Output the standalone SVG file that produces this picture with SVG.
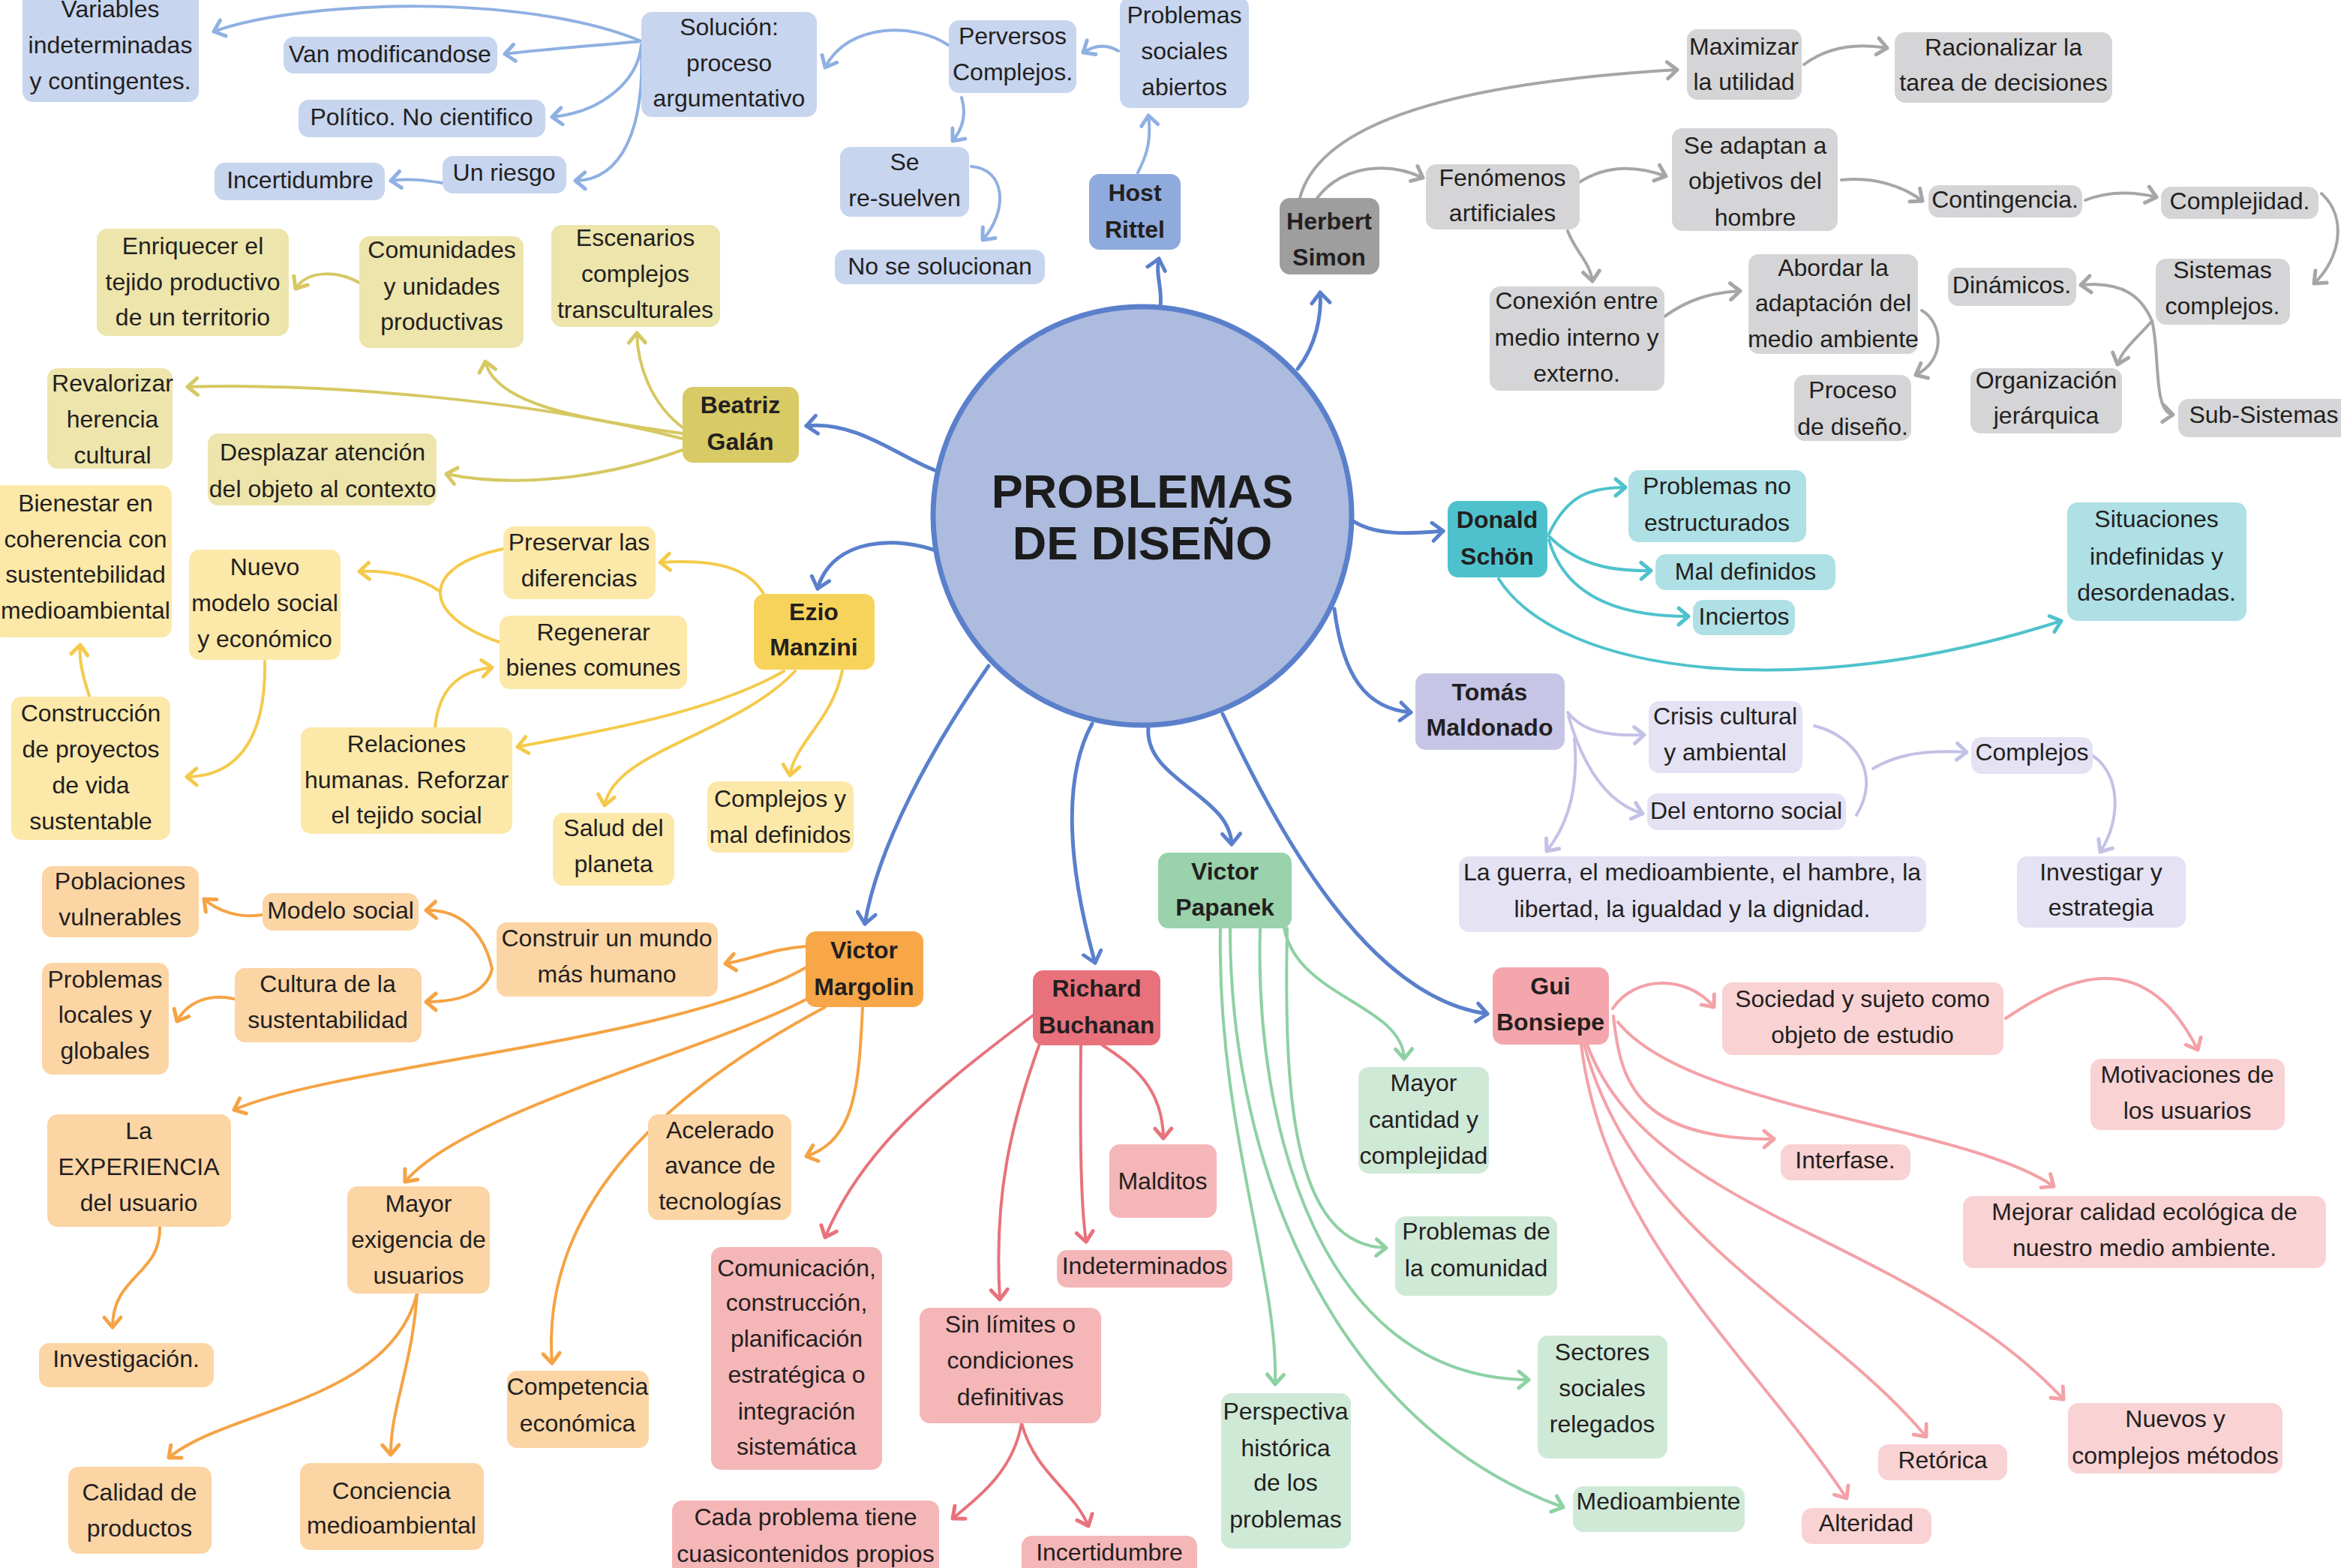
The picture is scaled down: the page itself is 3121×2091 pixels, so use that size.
<svg xmlns="http://www.w3.org/2000/svg" width="3121" height="2091" viewBox="0 0 3121 2091">
<style>
  .t{font-family:"Liberation Sans",Arial,Helvetica,sans-serif;font-size:32px;fill:#231f20;text-anchor:middle;dominant-baseline:central}
  .h{font-weight:bold}
  .ct{font-family:"Liberation Sans",Arial,Helvetica,sans-serif;font-size:63px;font-weight:bold;fill:#1c1c1c;text-anchor:middle;dominant-baseline:central}
  rect{rx:14px;ry:14px}
  .c{fill:none;stroke-width:4;stroke-linecap:round}
  .blue{stroke:#5a80cc;stroke-width:5}
  .rit{stroke:#8fb0e2}.sim{stroke:#a6a6a8}.sch{stroke:#4fc2cc}.mal{stroke:#c3c1e6}
  .gui{stroke:#f4a1a7}.pap{stroke:#8ed1a3}.buc{stroke:#e8727b}.mar{stroke:#f5a344}
  .ezi{stroke:#f5ca4c}.bea{stroke:#d6c863}
  .fRit{fill:#c7d5ef}.fRitH{fill:#8faadd}
  .fSim{fill:#d5d5d7}.fSimH{fill:#9e9e9f}
  .fSch{fill:#aee0e5}.fSchH{fill:#4ec2cc}
  .fMal{fill:#e4e2f3}.fMalH{fill:#c7c5e6}
  .fGui{fill:#f9d2d4}.fGuiH{fill:#f5a6ac}
  .fPap{fill:#cfe9d7}.fPapH{fill:#99d2ab}
  .fBuc{fill:#f5b6b8}.fBucH{fill:#e9717b}
  .fMar{fill:#fcd5a5}.fMarH{fill:#f7a648}
  .fEzi{fill:#fce8a9}.fEziH{fill:#f8d35b}
  .fBea{fill:#ede5ac}.fBeaH{fill:#d8ca64}
</style>
<defs>
  <marker id="mBlue" markerUnits="userSpaceOnUse" markerWidth="40" markerHeight="40" viewBox="-20 -20 40 40" refX="0" refY="0" orient="auto" overflow="visible"><path d="M-14,-12 L0,0 L-14,12" fill="none" stroke="#5a80cc" stroke-width="5" stroke-linecap="round" stroke-linejoin="round"/></marker>
  <marker id="mRit" markerUnits="userSpaceOnUse" markerWidth="40" markerHeight="40" viewBox="-20 -20 40 40" refX="0" refY="0" orient="auto" overflow="visible"><path d="M-13,-11 L0,0 L-13,11" fill="none" stroke="#8fb0e2" stroke-width="5" stroke-linecap="round" stroke-linejoin="round"/></marker>
  <marker id="mSim" markerUnits="userSpaceOnUse" markerWidth="40" markerHeight="40" viewBox="-20 -20 40 40" refX="0" refY="0" orient="auto" overflow="visible"><path d="M-13,-11 L0,0 L-13,11" fill="none" stroke="#a6a6a8" stroke-width="5" stroke-linecap="round" stroke-linejoin="round"/></marker>
  <marker id="mSch" markerUnits="userSpaceOnUse" markerWidth="40" markerHeight="40" viewBox="-20 -20 40 40" refX="0" refY="0" orient="auto" overflow="visible"><path d="M-13,-11 L0,0 L-13,11" fill="none" stroke="#4fc2cc" stroke-width="5" stroke-linecap="round" stroke-linejoin="round"/></marker>
  <marker id="mMal" markerUnits="userSpaceOnUse" markerWidth="40" markerHeight="40" viewBox="-20 -20 40 40" refX="0" refY="0" orient="auto" overflow="visible"><path d="M-13,-11 L0,0 L-13,11" fill="none" stroke="#c3c1e6" stroke-width="5" stroke-linecap="round" stroke-linejoin="round"/></marker>
  <marker id="mGui" markerUnits="userSpaceOnUse" markerWidth="40" markerHeight="40" viewBox="-20 -20 40 40" refX="0" refY="0" orient="auto" overflow="visible"><path d="M-13,-11 L0,0 L-13,11" fill="none" stroke="#f4a1a7" stroke-width="5" stroke-linecap="round" stroke-linejoin="round"/></marker>
  <marker id="mPap" markerUnits="userSpaceOnUse" markerWidth="40" markerHeight="40" viewBox="-20 -20 40 40" refX="0" refY="0" orient="auto" overflow="visible"><path d="M-13,-11 L0,0 L-13,11" fill="none" stroke="#8ed1a3" stroke-width="5" stroke-linecap="round" stroke-linejoin="round"/></marker>
  <marker id="mBuc" markerUnits="userSpaceOnUse" markerWidth="40" markerHeight="40" viewBox="-20 -20 40 40" refX="0" refY="0" orient="auto" overflow="visible"><path d="M-13,-11 L0,0 L-13,11" fill="none" stroke="#e8727b" stroke-width="5" stroke-linecap="round" stroke-linejoin="round"/></marker>
  <marker id="mMar" markerUnits="userSpaceOnUse" markerWidth="40" markerHeight="40" viewBox="-20 -20 40 40" refX="0" refY="0" orient="auto" overflow="visible"><path d="M-13,-11 L0,0 L-13,11" fill="none" stroke="#f5a344" stroke-width="5" stroke-linecap="round" stroke-linejoin="round"/></marker>
  <marker id="mEzi" markerUnits="userSpaceOnUse" markerWidth="40" markerHeight="40" viewBox="-20 -20 40 40" refX="0" refY="0" orient="auto" overflow="visible"><path d="M-13,-11 L0,0 L-13,11" fill="none" stroke="#f5ca4c" stroke-width="5" stroke-linecap="round" stroke-linejoin="round"/></marker>
  <marker id="mBea" markerUnits="userSpaceOnUse" markerWidth="40" markerHeight="40" viewBox="-20 -20 40 40" refX="0" refY="0" orient="auto" overflow="visible"><path d="M-13,-11 L0,0 L-13,11" fill="none" stroke="#d6c863" stroke-width="5" stroke-linecap="round" stroke-linejoin="round"/></marker>
</defs>

<rect x="0" y="0" width="3121" height="2091" rx="0" ry="0" fill="#ffffff"/>

<!-- connectors -->
<g id="connectors">
  <!-- from the central topic -->
  <path class="c blue" marker-end="url(#mBlue)" d="M1547,408 C1550,385 1540,365 1545,345"/>
  <path class="c blue" marker-end="url(#mBlue)" d="M1730,492 C1755,460 1762,420 1760,390"/>
  <path class="c blue" marker-end="url(#mBlue)" d="M1246,627 C1200,610 1140,560 1075,568"/>
  <path class="c blue" marker-end="url(#mBlue)" d="M1252,736 C1200,715 1110,715 1090,785"/>
  <path class="c blue" marker-end="url(#mBlue)" d="M1318,888 C1240,1000 1170,1130 1153,1232"/>
  <path class="c blue" marker-end="url(#mBlue)" d="M1456,965 C1415,1040 1425,1160 1460,1284"/>
  <path class="c blue" marker-end="url(#mBlue)" d="M1531,970 C1525,1040 1640,1060 1642,1126"/>
  <path class="c blue" marker-end="url(#mBlue)" d="M1630,952 C1700,1100 1820,1330 1983,1352"/>
  <path class="c blue" marker-end="url(#mBlue)" d="M1800,692 C1830,715 1880,712 1924,708"/>
  <path class="c blue" marker-end="url(#mBlue)" d="M1779,812 C1790,900 1820,945 1881,950"/>

  <!-- Host Rittel -->
  <path class="c rit" marker-end="url(#mRit)" d="M1517,230 C1530,205 1535,185 1531,154"/>
  <path class="c rit" marker-end="url(#mRit)" d="M1491,68 C1475,58 1460,60 1444,70"/>
  <path class="c rit" marker-end="url(#mRit)" d="M1264,60 C1220,30 1130,30 1100,90"/>
  <path class="c rit" marker-end="url(#mRit)" d="M1282,130 C1288,150 1285,170 1270,188"/>
  <path class="c rit" marker-end="url(#mRit)" d="M1295,222 C1340,225 1345,280 1310,320"/>
  <path class="c rit" marker-end="url(#mRit)" d="M855,55 C700,-10 400,0 285,42"/>
  <path class="c rit" marker-end="url(#mRit)" d="M855,55 C780,62 720,66 673,72"/>
  <path class="c rit" marker-end="url(#mRit)" d="M855,60 C850,110 800,150 736,156"/>
  <path class="c rit" marker-end="url(#mRit)" d="M855,60 C860,170 830,240 767,241"/>
  <path class="c rit" marker-end="url(#mRit)" d="M590,244 C565,240 545,238 521,241"/>

  <!-- Herbert Simon -->
  <path class="c sim" marker-end="url(#mSim)" d="M1733,264 C1760,160 1950,110 2236,93"/>
  <path class="c sim" marker-end="url(#mSim)" d="M1756,264 C1790,220 1850,215 1897,237"/>
  <path class="c sim" marker-end="url(#mSim)" d="M2405,86 C2440,60 2480,58 2516,64"/>
  <path class="c sim" marker-end="url(#mSim)" d="M2104,244 C2140,220 2180,220 2221,235"/>
  <path class="c sim" marker-end="url(#mSim)" d="M2455,240 C2500,235 2540,250 2563,268"/>
  <path class="c sim" marker-end="url(#mSim)" d="M2780,267 C2810,255 2845,255 2875,263"/>
  <path class="c sim" marker-end="url(#mSim)" d="M3095,258 C3130,290 3120,345 3085,378"/>
  <path class="c sim" marker-end="url(#mSim)" d="M2869,428 C2855,395 2830,375 2774,380"/>
  <path class="c sim" marker-end="url(#mSim)" d="M2869,428 C2850,450 2830,465 2823,486"/>
  <path class="c sim" marker-end="url(#mSim)" d="M2869,428 C2880,470 2870,550 2897,553"/>
  <path class="c sim" marker-end="url(#mSim)" d="M2090,308 C2100,335 2120,350 2123,375"/>
  <path class="c sim" marker-end="url(#mSim)" d="M2219,422 C2250,400 2280,390 2320,388"/>
  <path class="c sim" marker-end="url(#mSim)" d="M2562,414 C2590,430 2595,480 2554,500"/>

  <!-- Donald Schön -->
  <path class="c sch" marker-end="url(#mSch)" d="M2065,712 C2090,660 2120,650 2167,650"/>
  <path class="c sch" marker-end="url(#mSch)" d="M2065,715 C2100,750 2140,762 2201,761"/>
  <path class="c sch" marker-end="url(#mSch)" d="M2065,720 C2085,790 2150,822 2251,822"/>
  <path class="c sch" marker-end="url(#mSch)" d="M1998,772 C2080,900 2400,940 2748,828"/>

  <!-- Tomás Maldonado -->
  <path class="c mal" marker-end="url(#mMal)" d="M2090,950 C2110,975 2140,982 2192,980"/>
  <path class="c mal" marker-end="url(#mMal)" d="M2091,955 C2110,1020 2140,1070 2190,1085"/>
  <path class="c mal" marker-end="url(#mMal)" d="M2099,985 C2105,1050 2090,1100 2062,1135"/>
  <path class="c mal" d="M2419,968 C2470,980 2510,1030 2475,1087"/>
  <path class="c mal" marker-end="url(#mMal)" d="M2497,1025 C2530,1005 2570,1000 2622,1003"/>
  <path class="c mal" marker-end="url(#mMal)" d="M2790,1008 C2825,1030 2830,1090 2800,1136"/>

  <!-- Gui Bonsiepe -->
  <path class="c gui" marker-end="url(#mGui)" d="M2150,1345 C2180,1300 2250,1300 2285,1343"/>
  <path class="c gui" marker-end="url(#mGui)" d="M2674,1358 C2760,1300 2860,1260 2930,1400"/>
  <path class="c gui" marker-end="url(#mGui)" d="M2151,1355 C2160,1440 2180,1520 2365,1519"/>
  <path class="c gui" marker-end="url(#mGui)" d="M2157,1363 C2250,1480 2620,1500 2738,1582"/>
  <path class="c gui" marker-end="url(#mGui)" d="M2116,1393 C2200,1620 2550,1650 2751,1866"/>
  <path class="c gui" marker-end="url(#mGui)" d="M2112,1393 C2180,1650 2430,1750 2568,1916"/>
  <path class="c gui" marker-end="url(#mGui)" d="M2108,1393 C2140,1650 2330,1800 2462,1998"/>

  <!-- Victor Papanek -->
  <path class="c pap" marker-end="url(#mPap)" d="M1712,1238 C1730,1330 1870,1340 1872,1412"/>
  <path class="c pap" marker-end="url(#mPap)" d="M1716,1238 C1712,1450 1720,1660 1848,1664"/>
  <path class="c pap" marker-end="url(#mPap)" d="M1680,1238 C1672,1500 1760,1838 2038,1840"/>
  <path class="c pap" marker-end="url(#mPap)" d="M1640,1238 C1640,1560 1780,1900 2084,2010"/>
  <path class="c pap" marker-end="url(#mPap)" d="M1627,1238 C1622,1500 1705,1700 1700,1846"/>

  <!-- Richard Buchanan -->
  <path class="c buc" marker-end="url(#mBuc)" d="M1380,1352 C1250,1450 1150,1530 1100,1650"/>
  <path class="c buc" marker-end="url(#mBuc)" d="M1393,1373 C1345,1500 1325,1600 1333,1733"/>
  <path class="c buc" marker-end="url(#mBuc)" d="M1441,1394 C1440,1500 1440,1600 1448,1656"/>
  <path class="c buc" marker-end="url(#mBuc)" d="M1470,1394 C1510,1420 1550,1450 1551,1518"/>
  <path class="c buc" marker-end="url(#mBuc)" d="M1362,1898 C1350,1965 1300,2000 1270,2025"/>
  <path class="c buc" marker-end="url(#mBuc)" d="M1362,1898 C1380,1965 1430,1985 1451,2035"/>

  <!-- Victor Margolin -->
  <path class="c mar" marker-end="url(#mMar)" d="M1074,1262 C1030,1265 1000,1280 967,1285"/>
  <path class="c mar" marker-end="url(#mMar)" d="M656,1292 C645,1240 610,1212 568,1214"/>
  <path class="c mar" marker-end="url(#mMar)" d="M656,1292 C650,1320 620,1336 568,1336"/>
  <path class="c mar" marker-end="url(#mMar)" d="M349,1220 C320,1225 290,1215 272,1199"/>
  <path class="c mar" marker-end="url(#mMar)" d="M312,1332 C280,1325 250,1335 236,1362"/>
  <path class="c mar" marker-end="url(#mMar)" d="M1075,1290 C900,1390 450,1420 312,1480"/>
  <path class="c mar" marker-end="url(#mMar)" d="M1080,1330 C950,1400 620,1480 540,1576"/>
  <path class="c mar" marker-end="url(#mMar)" d="M1100,1343 C900,1450 720,1600 736,1818"/>
  <path class="c mar" marker-end="url(#mMar)" d="M1150,1343 C1145,1450 1140,1520 1075,1542"/>
  <path class="c mar" marker-end="url(#mMar)" d="M213,1636 C215,1700 150,1700 150,1770"/>
  <path class="c mar" marker-end="url(#mMar)" d="M556,1725 C520,1870 300,1880 225,1944"/>
  <path class="c mar" marker-end="url(#mMar)" d="M556,1725 C550,1820 520,1880 521,1940"/>

  <!-- Ezio Manzini -->
  <path class="c ezi" marker-end="url(#mEzi)" d="M1018,792 C1000,760 960,745 880,750"/>
  <path class="c ezi" d="M671,732 C560,755 560,820 665,856"/>
  <path class="c ezi" marker-end="url(#mEzi)" d="M587,789 C560,770 520,760 479,762"/>
  <path class="c ezi" marker-end="url(#mEzi)" d="M580,970 C585,920 610,895 656,890"/>
  <path class="c ezi" marker-end="url(#mEzi)" d="M1045,895 C950,950 800,975 690,996"/>
  <path class="c ezi" marker-end="url(#mEzi)" d="M1060,895 C980,980 820,1000 806,1074"/>
  <path class="c ezi" marker-end="url(#mEzi)" d="M1123,894 C1110,960 1060,990 1053,1034"/>
  <path class="c ezi" marker-end="url(#mEzi)" d="M353,882 C355,980 320,1035 249,1036"/>
  <path class="c ezi" marker-end="url(#mEzi)" d="M119,928 C110,900 105,880 107,860"/>

  <!-- Beatriz Galán -->
  <path class="c bea" marker-end="url(#mBea)" d="M910,570 C870,540 850,490 849,444"/>
  <path class="c bea" marker-end="url(#mBea)" d="M910,578 C780,560 660,540 647,482"/>
  <path class="c bea" marker-end="url(#mBea)" d="M481,378 C450,360 410,360 394,385"/>
  <path class="c bea" marker-end="url(#mBea)" d="M910,585 C700,530 400,510 250,516"/>
  <path class="c bea" marker-end="url(#mBea)" d="M910,600 C800,640 680,650 595,632"/>
</g>

<!-- central topic -->
<g id="n-centro">
  <circle cx="1523" cy="688" r="279" fill="#adbbdf" stroke="#5b80cb" stroke-width="7"/>
  <text class="ct"><tspan x="1523" y="655">PROBLEMAS</tspan><tspan x="1523" y="724">DE DISEÑO</tspan></text>
</g>

<!-- Host Rittel -->
<g id="n-rittel"><rect class="fRitH" x="1452" y="232" width="122" height="101"/><text class="t h"><tspan x="1513" y="257">Host</tspan><tspan x="1513" y="306">Rittel</tspan></text></g>
<g id="n-problemas-sociales"><rect class="fRit" x="1493" y="-4" width="172" height="148"/><text class="t"><tspan x="1579" y="20">Problemas</tspan><tspan x="1579" y="68">sociales</tspan><tspan x="1579" y="116">abiertos</tspan></text></g>
<g id="n-perversos"><rect class="fRit" x="1265" y="27" width="170" height="97"/><text class="t"><tspan x="1350" y="48">Perversos</tspan><tspan x="1350" y="96">Complejos.</tspan></text></g>
<g id="n-resuelven"><rect class="fRit" x="1120" y="196" width="172" height="93"/><text class="t"><tspan x="1206" y="216">Se</tspan><tspan x="1206" y="264">re-suelven</tspan></text></g>
<g id="n-no-solucionan"><rect class="fRit" x="1113" y="333" width="280" height="46"/><text class="t" x="1253" y="355">No se solucionan</text></g>
<g id="n-solucion"><rect class="fRit" x="855" y="16" width="234" height="140"/><text class="t"><tspan x="972" y="36">Solución:</tspan><tspan x="972" y="84">proceso</tspan><tspan x="972" y="131">argumentativo</tspan></text></g>
<g id="n-variables"><rect class="fRit" x="30" y="-20" width="235" height="156"/><text class="t"><tspan x="147" y="12">Variables</tspan><tspan x="147" y="60">indeterminadas</tspan><tspan x="147" y="108">y contingentes.</tspan></text></g>
<g id="n-van"><rect class="fRit" x="378" y="49" width="285" height="49"/><text class="t" x="520" y="72">Van modificandose</text></g>
<g id="n-politico"><rect class="fRit" x="398" y="133" width="329" height="50"/><text class="t" x="562" y="156">Político. No cientifico</text></g>
<g id="n-riesgo"><rect class="fRit" x="590" y="208" width="165" height="50"/><text class="t" x="672" y="230">Un riesgo</text></g>
<g id="n-incertidumbre-1"><rect class="fRit" x="286" y="217" width="227" height="50"/><text class="t" x="400" y="240">Incertidumbre</text></g>

<!-- Herbert Simon -->
<g id="n-simon"><rect class="fSimH" x="1706" y="264" width="133" height="102"/><text class="t h"><tspan x="1772" y="295">Herbert</tspan><tspan x="1772" y="343">Simon</tspan></text></g>
<g id="n-maximizar"><rect class="fSim" x="2249" y="39" width="153" height="94"/><text class="t"><tspan x="2325" y="62">Maximizar</tspan><tspan x="2325" y="109">la utilidad</tspan></text></g>
<g id="n-racionalizar"><rect class="fSim" x="2526" y="43" width="290" height="94"/><text class="t"><tspan x="2671" y="63">Racionalizar la</tspan><tspan x="2671" y="110">tarea de decisiones</tspan></text></g>
<g id="n-fenomenos"><rect class="fSim" x="1901" y="219" width="205" height="87"/><text class="t"><tspan x="2003" y="237">Fenómenos</tspan><tspan x="2003" y="284">artificiales</tspan></text></g>
<g id="n-adaptan"><rect class="fSim" x="2229" y="171" width="221" height="137"/><text class="t"><tspan x="2340" y="194">Se adaptan a</tspan><tspan x="2340" y="241">objetivos del</tspan><tspan x="2340" y="290">hombre</tspan></text></g>
<g id="n-contingencia"><rect class="fSim" x="2571" y="247" width="205" height="43"/><text class="t" x="2673" y="266">Contingencia.</text></g>
<g id="n-complejidad"><rect class="fSim" x="2881" y="249" width="210" height="43"/><text class="t" x="2986" y="268">Complejidad.</text></g>
<g id="n-conexion"><rect class="fSim" x="1986" y="382" width="233" height="139"/><text class="t"><tspan x="2102" y="401">Conexión entre</tspan><tspan x="2102" y="450">medio interno y</tspan><tspan x="2102" y="498">externo.</tspan></text></g>
<g id="n-abordar"><rect class="fSim" x="2331" y="339" width="226" height="133"/><text class="t"><tspan x="2444" y="357">Abordar la</tspan><tspan x="2444" y="404">adaptación del</tspan><tspan x="2444" y="452">medio ambiente</tspan></text></g>
<g id="n-proceso"><rect class="fSim" x="2392" y="500" width="156" height="88"/><text class="t"><tspan x="2470" y="520">Proceso</tspan><tspan x="2470" y="569">de diseño.</tspan></text></g>
<g id="n-dinamicos"><rect class="fSim" x="2597" y="357" width="171" height="51"/><text class="t" x="2682" y="380">Dinámicos.</text></g>
<g id="n-sistemas"><rect class="fSim" x="2874" y="345" width="179" height="88"/><text class="t"><tspan x="2963" y="360">Sistemas</tspan><tspan x="2963" y="408">complejos.</tspan></text></g>
<g id="n-organizacion"><rect class="fSim" x="2627" y="491" width="202" height="87"/><text class="t"><tspan x="2728" y="507">Organización</tspan><tspan x="2728" y="554">jerárquica</tspan></text></g>
<g id="n-subsistemas"><rect class="fSim" x="2904" y="532" width="240" height="51"/><text class="t" x="3018" y="553">Sub-Sistemas</text></g>

<!-- Donald Schön -->
<g id="n-schon"><rect class="fSchH" x="1930" y="668" width="133" height="102"/><text class="t h"><tspan x="1996" y="693">Donald</tspan><tspan x="1996" y="742">Schön</tspan></text></g>
<g id="n-no-estructurados"><rect class="fSch" x="2171" y="627" width="237" height="96"/><text class="t"><tspan x="2289" y="648">Problemas no</tspan><tspan x="2289" y="697">estructurados</tspan></text></g>
<g id="n-mal-definidos"><rect class="fSch" x="2207" y="739" width="240" height="48"/><text class="t" x="2327" y="762">Mal definidos</text></g>
<g id="n-inciertos"><rect class="fSch" x="2257" y="800" width="136" height="47"/><text class="t" x="2325" y="822">Inciertos</text></g>
<g id="n-situaciones"><rect class="fSch" x="2756" y="670" width="239" height="158"/><text class="t"><tspan x="2875" y="692">Situaciones</tspan><tspan x="2875" y="742">indefinidas y</tspan><tspan x="2875" y="790">desordenadas.</tspan></text></g>

<!-- Tomás Maldonado -->
<g id="n-maldonado"><rect class="fMalH" x="1887" y="898" width="199" height="102"/><text class="t h"><tspan x="1986" y="923">Tomás</tspan><tspan x="1986" y="970">Maldonado</tspan></text></g>
<g id="n-crisis"><rect class="fMal" x="2198" y="935" width="205" height="96"/><text class="t"><tspan x="2300" y="955">Crisis cultural</tspan><tspan x="2300" y="1003">y ambiental</tspan></text></g>
<g id="n-entorno"><rect class="fMal" x="2196" y="1058" width="265" height="49"/><text class="t" x="2328" y="1081">Del entorno social</text></g>
<g id="n-complejos"><rect class="fMal" x="2628" y="983" width="162" height="49"/><text class="t" x="2709" y="1003">Complejos</text></g>
<g id="n-guerra"><rect class="fMal" x="1945" y="1142" width="623" height="101"/><text class="t"><tspan x="2256" y="1163">La guerra, el medioambiente, el hambre, la</tspan><tspan x="2256" y="1212">libertad, la igualdad y la dignidad.</tspan></text></g>
<g id="n-investigar"><rect class="fMal" x="2689" y="1142" width="225" height="95"/><text class="t"><tspan x="2801" y="1163">Investigar y</tspan><tspan x="2801" y="1210">estrategia</tspan></text></g>

<!-- Gui Bonsiepe -->
<g id="n-bonsiepe"><rect class="fGuiH" x="1990" y="1290" width="155" height="103"/><text class="t h"><tspan x="2067" y="1315">Gui</tspan><tspan x="2067" y="1363">Bonsiepe</tspan></text></g>
<g id="n-sociedad"><rect class="fGui" x="2296" y="1310" width="375" height="97"/><text class="t"><tspan x="2483" y="1332">Sociedad y sujeto como</tspan><tspan x="2483" y="1380">objeto de estudio</tspan></text></g>
<g id="n-motivaciones"><rect class="fGui" x="2787" y="1412" width="259" height="95"/><text class="t"><tspan x="2916" y="1433">Motivaciones de</tspan><tspan x="2916" y="1481">los usuarios</tspan></text></g>
<g id="n-interfase"><rect class="fGui" x="2374" y="1526" width="173" height="48"/><text class="t" x="2460" y="1547">Interfase.</text></g>
<g id="n-mejorar"><rect class="fGui" x="2617" y="1595" width="484" height="96"/><text class="t"><tspan x="2859" y="1616">Mejorar calidad ecológica de</tspan><tspan x="2859" y="1664">nuestro medio ambiente.</tspan></text></g>
<g id="n-retorica"><rect class="fGui" x="2504" y="1926" width="172" height="48"/><text class="t" x="2590" y="1947">Retórica</text></g>
<g id="n-nuevos"><rect class="fGui" x="2757" y="1871" width="286" height="94"/><text class="t"><tspan x="2900" y="1892">Nuevos y</tspan><tspan x="2900" y="1941">complejos métodos</tspan></text></g>
<g id="n-alteridad"><rect class="fGui" x="2402" y="2011" width="173" height="48"/><text class="t" x="2488" y="2031">Alteridad</text></g>

<!-- Victor Papanek -->
<g id="n-papanek"><rect class="fPapH" x="1544" y="1137" width="178" height="101"/><text class="t h"><tspan x="1633" y="1162">Victor</tspan><tspan x="1633" y="1210">Papanek</tspan></text></g>
<g id="n-mayor-cantidad"><rect class="fPap" x="1811" y="1423" width="174" height="142"/><text class="t"><tspan x="1898" y="1444">Mayor</tspan><tspan x="1898" y="1493">cantidad y</tspan><tspan x="1898" y="1541">complejidad</tspan></text></g>
<g id="n-comunidad"><rect class="fPap" x="1860" y="1622" width="216" height="106"/><text class="t"><tspan x="1968" y="1642">Problemas de</tspan><tspan x="1968" y="1691">la comunidad</tspan></text></g>
<g id="n-sectores"><rect class="fPap" x="2050" y="1781" width="173" height="164"/><text class="t"><tspan x="2136" y="1803">Sectores</tspan><tspan x="2136" y="1851">sociales</tspan><tspan x="2136" y="1899">relegados</tspan></text></g>
<g id="n-medioambiente"><rect class="fPap" x="2097" y="1982" width="229" height="61"/><text class="t" x="2211" y="2002">Medioambiente</text></g>
<g id="n-perspectiva"><rect class="fPap" x="1628" y="1858" width="173" height="207"/><text class="t"><tspan x="1714" y="1882">Perspectiva</tspan><tspan x="1714" y="1931">histórica</tspan><tspan x="1714" y="1977">de los</tspan><tspan x="1714" y="2026">problemas</tspan></text></g>

<!-- Richard Buchanan -->
<g id="n-buchanan"><rect class="fBucH" x="1377" y="1294" width="170" height="100"/><text class="t h"><tspan x="1462" y="1318">Richard</tspan><tspan x="1462" y="1367">Buchanan</tspan></text></g>
<g id="n-malditos"><rect class="fBuc" x="1479" y="1526" width="143" height="98"/><text class="t" x="1550" y="1575">Malditos</text></g>
<g id="n-indeterminados"><rect class="fBuc" x="1409" y="1667" width="234" height="50"/><text class="t" x="1526" y="1688">Indeterminados</text></g>
<g id="n-sin-limites"><rect class="fBuc" x="1226" y="1744" width="242" height="154"/><text class="t"><tspan x="1347" y="1766">Sin límites o</tspan><tspan x="1347" y="1814">condiciones</tspan><tspan x="1347" y="1863">definitivas</tspan></text></g>
<g id="n-comunicacion"><rect class="fBuc" x="948" y="1663" width="228" height="297"/><text class="t"><tspan x="1062" y="1691">Comunicación,</tspan><tspan x="1062" y="1737">construcción,</tspan><tspan x="1062" y="1785">planificación</tspan><tspan x="1062" y="1833">estratégica o</tspan><tspan x="1062" y="1882">integración</tspan><tspan x="1062" y="1929">sistemática</tspan></text></g>
<g id="n-cada-problema"><rect class="fBuc" x="896" y="2001" width="356" height="110"/><text class="t"><tspan x="1074" y="2023">Cada problema tiene</tspan><tspan x="1074" y="2072">cuasicontenidos propios</tspan></text></g>
<g id="n-incertidumbre-2"><rect class="fBuc" x="1362" y="2048" width="234" height="60"/><text class="t" x="1479" y="2070">Incertidumbre</text></g>

<!-- Victor Margolin -->
<g id="n-margolin"><rect class="fMarH" x="1074" y="1242" width="157" height="101"/><text class="t h"><tspan x="1152" y="1267">Victor</tspan><tspan x="1152" y="1316">Margolin</tspan></text></g>
<g id="n-construir"><rect class="fMar" x="662" y="1230" width="295" height="99"/><text class="t"><tspan x="809" y="1251">Construir un mundo</tspan><tspan x="809" y="1299">más humano</tspan></text></g>
<g id="n-modelo-social"><rect class="fMar" x="350" y="1191" width="208" height="50"/><text class="t" x="454" y="1214">Modelo social</text></g>
<g id="n-cultura"><rect class="fMar" x="313" y="1291" width="249" height="99"/><text class="t"><tspan x="437" y="1312">Cultura de la</tspan><tspan x="437" y="1360">sustentabilidad</tspan></text></g>
<g id="n-poblaciones"><rect class="fMar" x="56" y="1155" width="209" height="95"/><text class="t"><tspan x="160" y="1175">Poblaciones</tspan><tspan x="160" y="1223">vulnerables</tspan></text></g>
<g id="n-locales"><rect class="fMar" x="56" y="1284" width="169" height="149"/><text class="t"><tspan x="140" y="1306">Problemas</tspan><tspan x="140" y="1353">locales y</tspan><tspan x="140" y="1401">globales</tspan></text></g>
<g id="n-experiencia"><rect class="fMar" x="63" y="1486" width="245" height="150"/><text class="t"><tspan x="185" y="1508">La</tspan><tspan x="185" y="1556">EXPERIENCIA</tspan><tspan x="185" y="1604">del usuario</tspan></text></g>
<g id="n-investigacion"><rect class="fMar" x="52" y="1791" width="233" height="59"/><text class="t" x="168" y="1812">Investigación.</text></g>
<g id="n-exigencia"><rect class="fMar" x="463" y="1582" width="190" height="143"/><text class="t"><tspan x="558" y="1605">Mayor</tspan><tspan x="558" y="1653">exigencia de</tspan><tspan x="558" y="1701">usuarios</tspan></text></g>
<g id="n-acelerado"><rect class="fMar" x="864" y="1486" width="191" height="141"/><text class="t"><tspan x="960" y="1507">Acelerado</tspan><tspan x="960" y="1554">avance de</tspan><tspan x="960" y="1602">tecnologías</tspan></text></g>
<g id="n-competencia"><rect class="fMar" x="676" y="1828" width="189" height="103"/><text class="t"><tspan x="770" y="1849">Competencia</tspan><tspan x="770" y="1898">económica</tspan></text></g>
<g id="n-calidad"><rect class="fMar" x="91" y="1956" width="191" height="116"/><text class="t"><tspan x="186" y="1990">Calidad de</tspan><tspan x="186" y="2038">productos</tspan></text></g>
<g id="n-conciencia"><rect class="fMar" x="400" y="1951" width="245" height="116"/><text class="t"><tspan x="522" y="1988">Conciencia</tspan><tspan x="522" y="2034">medioambiental</tspan></text></g>

<!-- Ezio Manzini -->
<g id="n-manzini"><rect class="fEziH" x="1005" y="792" width="161" height="101"/><text class="t h"><tspan x="1085" y="816">Ezio</tspan><tspan x="1085" y="863">Manzini</tspan></text></g>
<g id="n-preservar"><rect class="fEzi" x="671" y="702" width="203" height="97"/><text class="t"><tspan x="772" y="723">Preservar las</tspan><tspan x="772" y="771">diferencias</tspan></text></g>
<g id="n-regenerar"><rect class="fEzi" x="666" y="821" width="250" height="98"/><text class="t"><tspan x="791" y="843">Regenerar</tspan><tspan x="791" y="890">bienes comunes</tspan></text></g>
<g id="n-nuevo-modelo"><rect class="fEzi" x="252" y="733" width="202" height="147"/><text class="t"><tspan x="353" y="756">Nuevo</tspan><tspan x="353" y="804">modelo social</tspan><tspan x="353" y="852">y económico</tspan></text></g>
<g id="n-bienestar"><rect class="fEzi" x="-10" y="647" width="239" height="203"/><text class="t"><tspan x="114" y="671">Bienestar en</tspan><tspan x="114" y="719">coherencia con</tspan><tspan x="114" y="766">sustentebilidad</tspan><tspan x="114" y="814">medioambiental</tspan></text></g>
<g id="n-construccion"><rect class="fEzi" x="15" y="929" width="212" height="191"/><text class="t"><tspan x="121" y="951">Construcción</tspan><tspan x="121" y="999">de proyectos</tspan><tspan x="121" y="1047">de vida</tspan><tspan x="121" y="1095">sustentable</tspan></text></g>
<g id="n-relaciones"><rect class="fEzi" x="401" y="970" width="282" height="142"/><text class="t"><tspan x="542" y="992">Relaciones</tspan><tspan x="542" y="1040">humanas. Reforzar</tspan><tspan x="542" y="1087">el tejido social</tspan></text></g>
<g id="n-salud"><rect class="fEzi" x="737" y="1084" width="162" height="97"/><text class="t"><tspan x="818" y="1104">Salud del</tspan><tspan x="818" y="1152">planeta</tspan></text></g>
<g id="n-complejos-mal"><rect class="fEzi" x="943" y="1042" width="195" height="95"/><text class="t"><tspan x="1040" y="1065">Complejos y</tspan><tspan x="1040" y="1113">mal definidos</tspan></text></g>

<!-- Beatriz Galán -->
<g id="n-galan"><rect class="fBeaH" x="910" y="516" width="155" height="101"/><text class="t h"><tspan x="987" y="540">Beatriz</tspan><tspan x="987" y="589">Galán</tspan></text></g>
<g id="n-enriquecer"><rect class="fBea" x="129" y="305" width="256" height="143"/><text class="t"><tspan x="257" y="328">Enriquecer el</tspan><tspan x="257" y="376">tejido productivo</tspan><tspan x="257" y="423">de un territorio</tspan></text></g>
<g id="n-comunidades"><rect class="fBea" x="479" y="315" width="219" height="149"/><text class="t"><tspan x="589" y="333">Comunidades</tspan><tspan x="589" y="382">y unidades</tspan><tspan x="589" y="429">productivas</tspan></text></g>
<g id="n-escenarios"><rect class="fBea" x="735" y="300" width="225" height="136"/><text class="t"><tspan x="847" y="317">Escenarios</tspan><tspan x="847" y="365">complejos</tspan><tspan x="847" y="413">transculturales</tspan></text></g>
<g id="n-revalorizar"><rect class="fBea" x="63" y="491" width="167" height="134"/><text class="t"><tspan x="150" y="511">Revalorizar</tspan><tspan x="150" y="559">herencia</tspan><tspan x="150" y="607">cultural</tspan></text></g>
<g id="n-desplazar"><rect class="fBea" x="277" y="578" width="305" height="96"/><text class="t"><tspan x="430" y="603">Desplazar atención</tspan><tspan x="430" y="652">del objeto al contexto</tspan></text></g>
</svg>
